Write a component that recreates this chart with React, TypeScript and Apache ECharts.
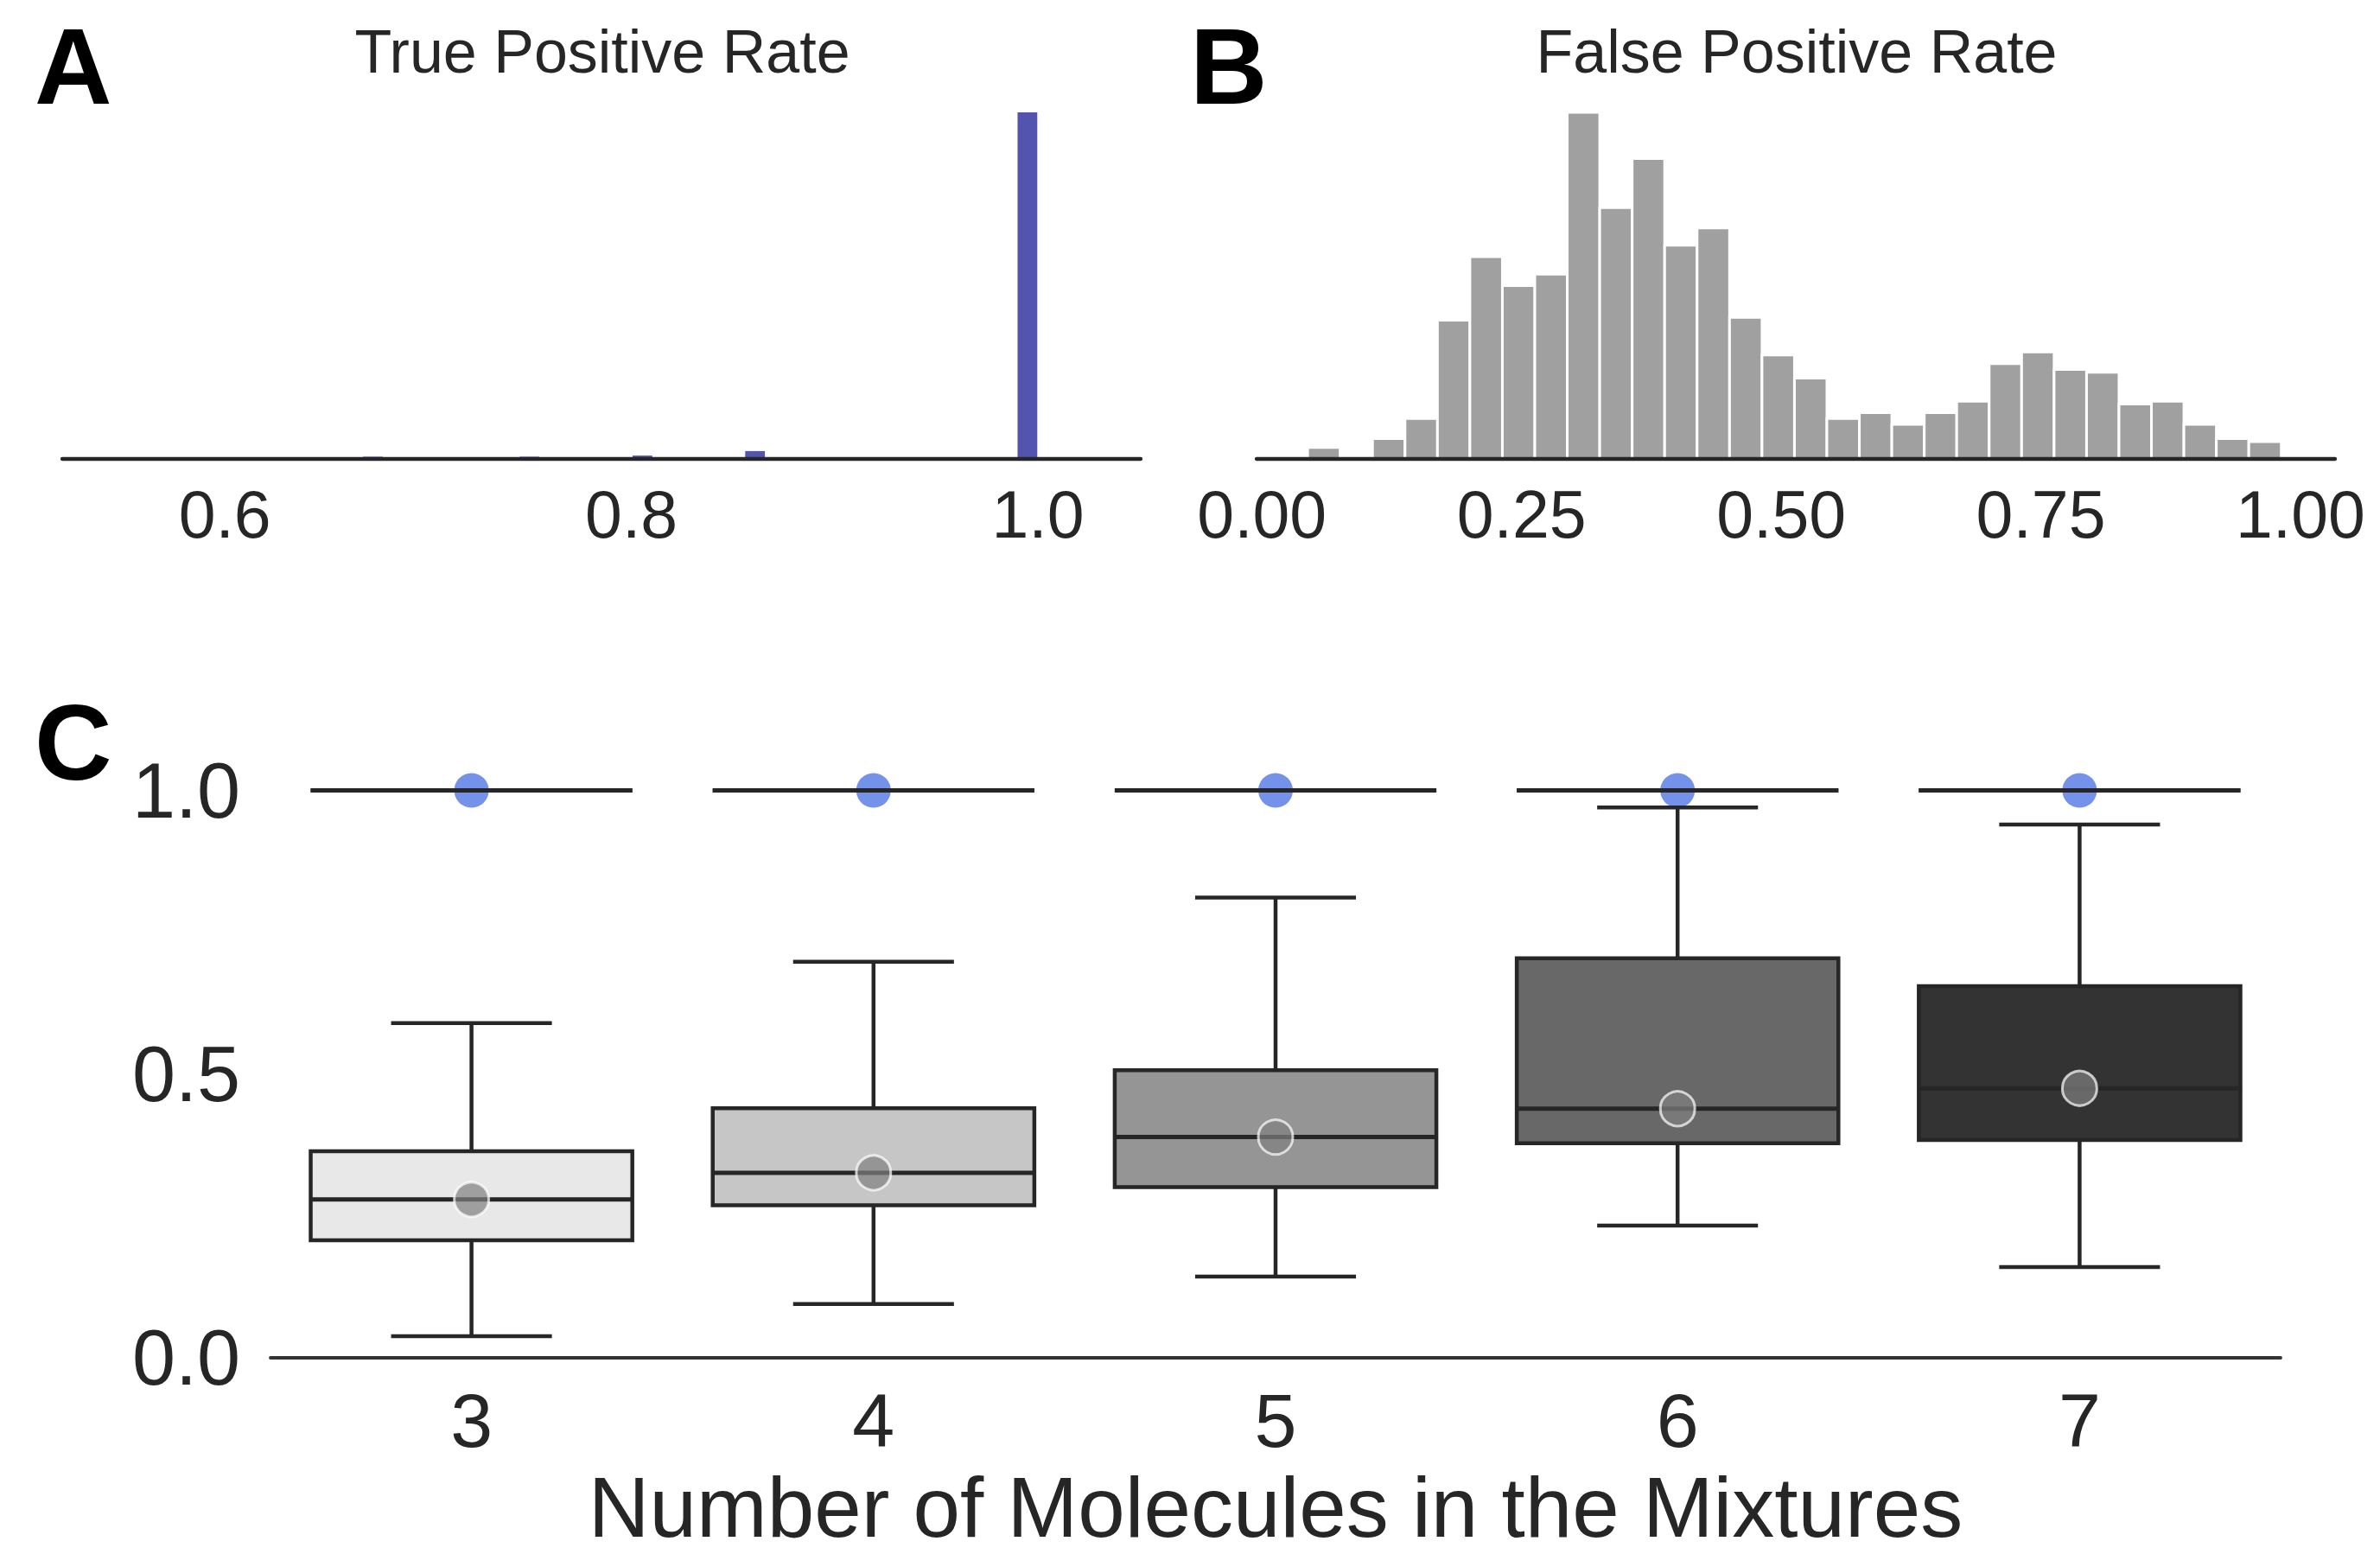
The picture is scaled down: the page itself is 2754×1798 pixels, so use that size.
import React, { useEffect, useRef } from 'react';
import * as echarts from 'echarts';

const FONT = '"Liberation Sans", Arial, Helvetica, sans-serif';

// ---- Panel A: True Positive Rate histogram ----
const tprBinLeft = [0.668, 0.745, 0.8006, 0.833, 0.856, 0.99];
const tprBinWidth = 0.0097;
const tprCounts = [2, 2, 3, 1, 7, 308];
const tprTicks = [0.6, 0.8, 1.0];

// ---- Panel B: False Positive Rate histogram ----
const fprBinStart = 0.044;
const fprBinWidth = 0.03125;
const fprCounts = [4, 0, 7, 14, 48, 70, 60, 64, 120, 87, 104, 74, 80, 49, 36, 28, 14, 16, 12, 16, 20, 33, 37, 31, 30, 19, 20, 12, 7, 6];
const fprTicks = [0, 0.25, 0.5, 0.75, 1.0];

// ---- Panel C: box plots ----
const categories = ['3', '4', '5', '6', '7'];
const fprWhiskerLow = [0.038, 0.095, 0.143, 0.233, 0.16];
const fprQ1 = [0.207, 0.269, 0.301, 0.378, 0.384];
const fprMedian = [0.279, 0.326, 0.389, 0.439, 0.475];
const fprQ3 = [0.364, 0.44, 0.507, 0.704, 0.655];
const fprWhiskerHigh = [0.59, 0.698, 0.811, 0.97, 0.94];
const fprMean = [0.279, 0.326, 0.389, 0.439, 0.475];

const tprWhiskerLow = [1.0, 1.0, 1.0, 1.0, 1.0];
const tprQ1 = [1.0, 1.0, 1.0, 1.0, 1.0];
const tprMedian = [1.0, 1.0, 1.0, 1.0, 1.0];
const tprQ3 = [1.0, 1.0, 1.0, 1.0, 1.0];
const tprWhiskerHigh = [1.0, 1.0, 1.0, 1.0, 1.0];
const tprMean = [1.0, 1.0, 1.0, 1.0, 1.0];
const cTicksInterval = 0.5;

// styles
const boxColors = ['#e8e8e8', '#c6c6c6', '#959595', '#686868', '#333333'];
const EDGE = '#262626';
const TEXT = '#262626';

function histRender(fill: string, strokeW: number) {
  return (params: any, api: any) => {
    const c = api.value(2);
    if (!c) return { type: 'group', children: [] };
    const p0 = api.coord([api.value(0), c]);
    const p1 = api.coord([api.value(1), 0]);
    return {
      type: 'rect',
      shape: { x: p0[0], y: p0[1], width: p1[0] - p0[0], height: p1[1] - p0[1] },
      style: strokeW > 0 ? { fill, stroke: '#ffffff', lineWidth: strokeW } : { fill },
    };
  };
}

function boxRender(colors: string[] | null) {
  return (params: any, api: any) => {
    const idx = api.value(0);
    const lo = api.coord([idx, api.value(1)]);
    const q1 = api.coord([idx, api.value(2)]);
    const med = api.coord([idx, api.value(3)]);
    const q3 = api.coord([idx, api.value(4)]);
    const hi = api.coord([idx, api.value(5)]);
    const band = api.size([1, 0])[0];
    const bw = band * 0.8;
    const cw = band * 0.4;
    const x = med[0];
    const lw = 4.5;
    const ls = { stroke: EDGE, lineWidth: lw };
    const fill = colors ? colors[params.dataIndex] : 'none';
    return {
      type: 'group',
      children: [
        { type: 'line', shape: { x1: x, y1: q3[1], x2: x, y2: hi[1] }, style: ls },
        { type: 'line', shape: { x1: x, y1: q1[1], x2: x, y2: lo[1] }, style: ls },
        { type: 'line', shape: { x1: x - cw / 2, y1: hi[1], x2: x + cw / 2, y2: hi[1] }, style: ls },
        { type: 'line', shape: { x1: x - cw / 2, y1: lo[1], x2: x + cw / 2, y2: lo[1] }, style: ls },
        {
          type: 'rect',
          shape: { x: x - bw / 2, y: q3[1], width: bw, height: q1[1] - q3[1] },
          style: { fill, stroke: EDGE, lineWidth: lw },
        },
        { type: 'line', shape: { x1: x - bw / 2, y1: med[1], x2: x + bw / 2, y2: med[1] }, style: { stroke: EDGE, lineWidth: 5 } },
      ],
    };
  };
}

const histXAxisBase = (min: number, max: number, ticks: number[], digits: number, grid: number) => ({
  type: 'value',
  gridIndex: grid,
  min,
  max,
  z: 10,
  axisLine: { show: true, onZero: false, lineStyle: { color: EDGE, width: 4.3 } },
  axisTick: { show: false },
  splitLine: { show: false },
  axisLabel: {
    customValues: ticks,
    formatter: (v: number) => v.toFixed(digits),
    fontSize: 77,
    lineHeight: 77,
    margin: 25,
    color: TEXT,
    fontFamily: FONT,
  },
});

const textEl = (text: string, x: number, y: number, size: number, bold: boolean, align: string, fill: string) => ({
  type: 'text',
  x,
  y,
  style: {
    text,
    fontSize: size,
    fontWeight: bold ? 'bold' : 'normal',
    fontFamily: FONT,
    fill,
    align,
    textAlign: align,
    verticalAlign: 'middle',
    textVerticalAlign: 'middle',
  },
});

const option: any = {
  animation: false,
  backgroundColor: '#ffffff',
  grid: [
    { left: 72, top: 130, width: 1248, height: 401, outerBoundsMode: 'none' },
    { left: 1454, top: 130, width: 1248, height: 401, outerBoundsMode: 'none' },
    { left: 313, top: 914.5, width: 2326, height: 656.5, outerBoundsMode: 'none' },
  ],
  xAxis: [
    histXAxisBase(0.52, 1.0506, tprTicks, 1, 0),
    histXAxisBase(-0.0052, 1.0333, fprTicks, 2, 1),
    {
      type: 'category',
      gridIndex: 2,
      data: categories,
      boundaryGap: true,
      axisLine: { show: true, lineStyle: { color: '#333333', width: 3.8 } },
      axisTick: { show: false },
      splitLine: { show: false },
      axisLabel: { interval: 0, fontSize: 88, lineHeight: 88, margin: 28, color: TEXT, fontFamily: FONT },
      name: 'Number of Molecules in the Mixtures',
      nameLocation: 'middle',
      nameGap: 124,
      nameTextStyle: { fontSize: 98, lineHeight: 98, color: TEXT, fontFamily: FONT },
    },
  ],
  yAxis: [
    { type: 'value', gridIndex: 0, min: 0, max: Math.max(...tprCounts), show: false },
    { type: 'value', gridIndex: 1, min: 0, max: Math.max(...fprCounts), show: false },
    {
      type: 'value',
      gridIndex: 2,
      min: 0,
      max: 1,
      interval: cTicksInterval,
      axisLine: { show: false },
      axisTick: { show: false },
      splitLine: { show: false },
      axisLabel: {
        formatter: (v: number) => v.toFixed(1),
        fontSize: 90,
        margin: 35,
        color: TEXT,
        fontFamily: FONT,
      },
    },
  ],
  series: [
    {
      type: 'custom',
      xAxisIndex: 0,
      yAxisIndex: 0,
      renderItem: histRender('#5254b0', 0),
      encode: { x: [0, 1], y: 2 },
      data: tprBinLeft.map((l, i) => [l, l + tprBinWidth, tprCounts[i]]),
      z: 2,
    },
    {
      type: 'custom',
      xAxisIndex: 1,
      yAxisIndex: 1,
      renderItem: histRender('#a0a0a0', 3),
      encode: { x: [0, 1], y: 2 },
      data: fprCounts.map((c, i) => [fprBinStart + i * fprBinWidth, fprBinStart + (i + 1) * fprBinWidth, c]),
      z: 2,
    },
    {
      type: 'scatter',
      xAxisIndex: 2,
      yAxisIndex: 2,
      symbol: 'circle',
      symbolSize: 40,
      itemStyle: { color: '#7592ea', opacity: 1 },
      data: tprMean.map((v, i) => [i, v]),
      z: 2,
    },
    {
      type: 'custom',
      xAxisIndex: 2,
      yAxisIndex: 2,
      renderItem: boxRender(null),
      encode: { x: 0, y: [1, 2, 3, 4, 5] },
      data: categories.map((c, i) => [i, tprWhiskerLow[i], tprQ1[i], tprMedian[i], tprQ3[i], tprWhiskerHigh[i]]),
      z: 3,
    },
    {
      type: 'custom',
      xAxisIndex: 2,
      yAxisIndex: 2,
      renderItem: boxRender(boxColors),
      encode: { x: 0, y: [1, 2, 3, 4, 5] },
      data: categories.map((c, i) => [i, fprWhiskerLow[i], fprQ1[i], fprMedian[i], fprQ3[i], fprWhiskerHigh[i]]),
      z: 3,
    },
    {
      type: 'scatter',
      xAxisIndex: 2,
      yAxisIndex: 2,
      symbol: 'circle',
      symbolSize: 40,
      itemStyle: { color: 'rgba(128,128,128,0.7)', borderColor: 'rgba(255,255,255,0.7)', borderWidth: 3, opacity: 1 },
      data: fprMean.map((v, i) => [i, v]),
      z: 4,
    },
  ],
  graphic: [
    textEl('A', 40, 77, 124, true, 'left', '#000000'),
    textEl('B', 1377, 77, 124, true, 'left', '#000000'),
    textEl('C', 40, 859, 124, true, 'left', '#000000'),
    textEl('True Positive Rate', 697, 60, 70, false, 'center', TEXT),
    textEl('False Positive Rate', 2079, 60, 70, false, 'center', TEXT),
  ],
};

export default function App() {
  const ref = useRef<HTMLDivElement>(null);
  useEffect(() => {
    document.body.style.margin = '0';
    const chart = echarts.init(ref.current as HTMLDivElement, null, { renderer: 'svg' });
    chart.setOption(option);
    return () => chart.dispose();
  }, []);
  return <div ref={ref} style={{ width: 2754, height: 1798 }} />;
}
